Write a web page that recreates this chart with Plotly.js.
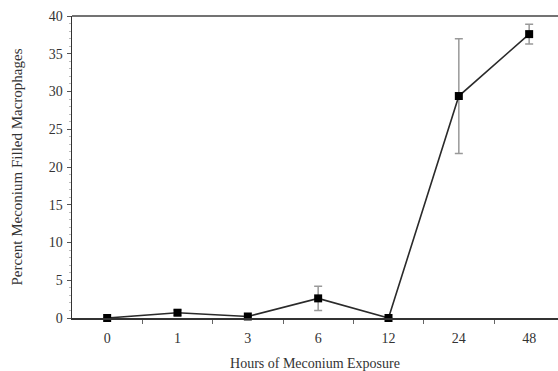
<!DOCTYPE html>
<html>
<head>
<meta charset="utf-8">
<script src="https://cdn.plot.ly/plotly-3.0.1.min.js"></script>
<style>html,body{margin:0;padding:0;background:#fff;}#chart{width:558px;height:371px;}</style>
</head>
<body>
<div id="chart"></div>
<script>
const hours = ['0', '1', '3', '6', '12', '24', '48'];
const percent = [0, 0.7, 0.2, 2.6, 0, 29.4, 37.6];
const sem = [0, 0.35, 0, 1.6, 0, 7.6, 1.3];
const yTicks = [0, 5, 10, 15, 20, 25, 30, 35, 40];

const xIdx = hours.map((h, i) => i);

const trace = {
  x: xIdx,
  y: percent,
  type: 'scatter',
  mode: 'lines+markers',
  line: {color: '#2a2a2a', width: 1.6},
  marker: {symbol: 'square', size: 8, color: '#000'},
  error_y: {type: 'data', array: sem, visible: true, color: '#999', thickness: 1.5, width: 4},
  cliponaxis: false,
  hoverinfo: 'skip'
};

const font = {family: 'Liberation Serif, Times New Roman, serif', color: '#333'};

const layout = {
  width: 558, height: 371,
  margin: {l: 72, r: 0, t: 16, b: 53},
  paper_bgcolor: '#fff', plot_bgcolor: '#fff',
  showlegend: false,
  font: font,
  xaxis: {
    range: [-0.5, 6.41],
    tickvals: xIdx, ticktext: hours,
    ticks: '', showgrid: false, zeroline: false,
    showline: true, linecolor: '#333', linewidth: 1.5,
    ticklabelstandoff: 7,
    tickfont: {family: font.family, size: 14, color: '#333'},
    title: {text: 'Hours of Meconium Exposure', font: {family: font.family, size: 14, color: '#333'}, standoff: 14},
    minor: {tickvals: [0.5, 1.5, 2.5, 3.5, 4.5, 5.5], ticks: 'outside', ticklen: 4, tickcolor: '#666', tickwidth: 1}
  },
  yaxis: {
    range: [0, 40],
    tickvals: yTicks,
    ticks: 'outside', ticklen: 4, tickcolor: '#555', tickwidth: 1,
    showgrid: false, zeroline: false,
    showline: true, linecolor: '#333', linewidth: 1.5,
    ticklabelstandoff: 1,
    tickfont: {family: font.family, size: 14, color: '#333'},
    title: {text: 'Percent Meconium Filled Macrophages', font: {family: font.family, size: 15, color: '#333'}, standoff: 22},
    minor: {dtick: 1, ticks: 'outside', ticklen: 2, tickcolor: '#bbb', tickwidth: 1}
  },
  shapes: [{
    type: 'line', xref: 'paper', yref: 'paper', x0: 0, x1: 1, y0: 1, y1: 1,
    line: {color: '#444', width: 1.5}
  }]
};

Plotly.newPlot('chart', [trace], layout, {displayModeBar: false, staticPlot: true});
</script>
</body>
</html>
